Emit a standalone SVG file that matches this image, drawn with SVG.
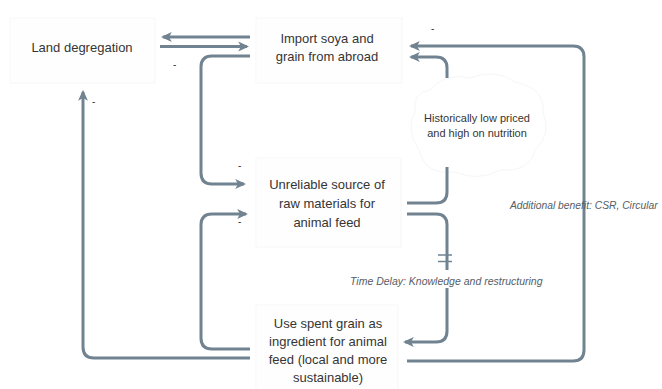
<svg xmlns="http://www.w3.org/2000/svg" width="662" height="389" viewBox="0 0 662 389">
<style>
.bg{fill:#fefefe;stroke:#f7f7f7;stroke-width:1}
.t{font-family:"Liberation Sans",Arial,sans-serif;font-size:13px;fill:#353535;text-anchor:middle}
.s{font-family:"Liberation Sans",Arial,sans-serif;font-size:11px;fill:#353535;text-anchor:middle}
.i{font-family:"Liberation Sans",Arial,sans-serif;font-style:italic;fill:#555d66}
.m{font-family:"Liberation Sans",Arial,sans-serif;font-size:10px;fill:#333}
.c{fill:none;stroke:#718391;stroke-width:3}
.cloud{fill:#ffffff;stroke:#f6f6f6;stroke-width:1}
</style>
<defs>
<marker id="ah" viewBox="0 0 10 10" refX="8" refY="5" markerWidth="11" markerHeight="11" markerUnits="userSpaceOnUse" orient="auto">
<path d="M0,0.5 L10,5 L0,9.5 L2.5,5 Z" fill="#718391"/>
</marker>
</defs>
<rect width="662" height="389" fill="#ffffff"/>

<g id="node-land">
<rect class="bg" x="10" y="18" width="145" height="65"/>
<text class="t" x="82" y="52">Land degregation</text>
</g>
<g id="node-import">
<rect class="bg" x="256" y="18" width="146" height="65"/>
<text class="t" x="327" y="43">Import soya and</text>
<text class="t" x="327" y="61">grain from abroad</text>
</g>
<g id="node-cloud">
<path class="cloud" d="M430,90 Q445,72 470,78 Q495,68 515,82 Q545,88 543,112 Q552,135 535,150 Q530,172 500,170 Q478,182 455,172 Q425,175 420,152 Q405,130 415,112 Q412,92 430,90 Z"/>
<text class="s" x="477" y="122">Historically low priced</text>
<text class="s" x="477" y="137">and high on nutrition</text>
</g>
<g id="node-unreliable">
<rect class="bg" x="256" y="158" width="145" height="89"/>
<text class="t" x="327" y="189">Unreliable source of</text>
<text class="t" x="327" y="208">raw materials for</text>
<text class="t" x="327" y="227">animal feed</text>
</g>
<g id="node-spent">
<rect class="bg" x="256" y="305" width="142" height="90"/>
<text class="t" x="328" y="328">Use spent grain as</text>
<text class="t" x="328" y="346">ingredient for animal</text>
<text class="t" x="328" y="364">feed (local and more</text>
<text class="t" x="328" y="382">sustainable)</text>
</g>

<g id="connectors">
<path class="c" d="M250,37 H163" marker-end="url(#ah)"/>
<path class="c" d="M160,46.5 H247" marker-end="url(#ah)"/>
<path class="c" d="M250,56 H212 Q201,56 201,67 V173 Q201,184 212,184 H244" marker-end="url(#ah)"/>
<path class="c" d="M250,349 H212 Q201,349 201,338 V225 Q201,214 212,214 H246" marker-end="url(#ah)"/>
<path class="c" d="M250,358 H94 Q83,358 83,347 V92" marker-end="url(#ah)"/>
<path class="c" d="M407,203 H436 Q447,203 447,192 V167"/>
<path class="c" d="M447,78 V68 Q447,57 436,57 H411" marker-end="url(#ah)"/>
<path class="c" d="M407,361 H573 Q584,361 584,350 V57 Q584,46 573,46 H411" marker-end="url(#ah)"/>
<path class="c" d="M407,214 H436 Q447,214 447,225 V270"/>
<path class="c" d="M447,288 V331 Q447,342 436,342 H405" marker-end="url(#ah)"/>
<path d="M438,255 H452 M438,261.5 H452" stroke="#718391" stroke-width="1.5" fill="none"/>
</g>

<g id="labels">
<text class="m" x="431" y="32">-</text>
<text class="m" x="173" y="68">-</text>
<text class="m" x="92" y="105">-</text>
<text class="m" x="238" y="169">-</text>
<text class="m" x="238" y="225">-</text>
<text class="i" x="510" y="209" font-size="10.3">Additional benefit: CSR, Circular</text>
<text class="i" x="350" y="285" font-size="10.5">Time Delay: Knowledge and restructuring</text>
</g>
</svg>
